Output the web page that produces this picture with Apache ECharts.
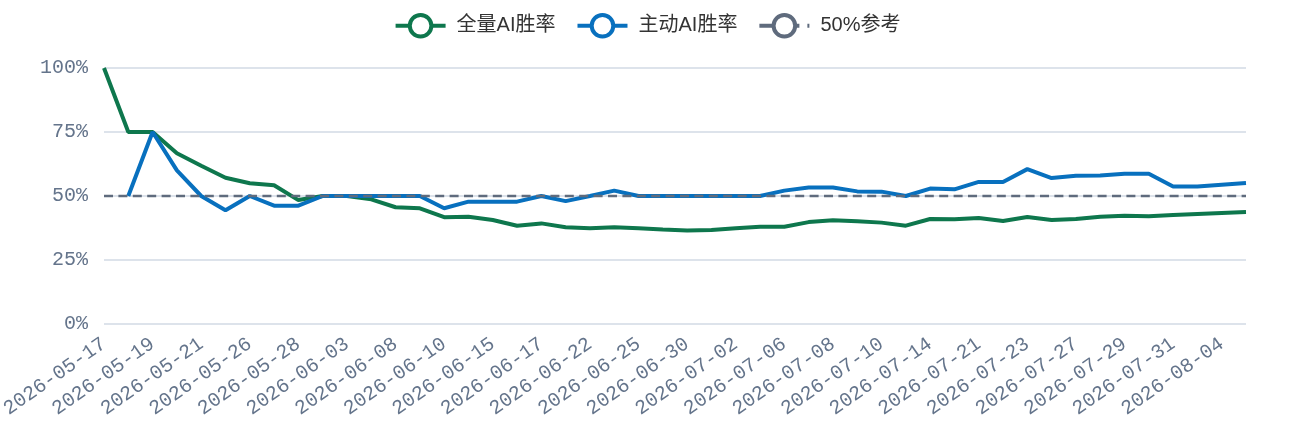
<!DOCTYPE html>
<html>
<head>
<meta charset="utf-8">
<script src="https://cdn.jsdelivr.net/npm/echarts@6/dist/echarts.min.js"></script>
<style>
  html, body { margin: 0; padding: 0; background: #fff; }
  #chart { width: 1294px; height: 422px; }
</style>
</head>
<body>
<div id="chart"></div>
<script>
// x 轴日期（隔一个显示）
const dates = [
  '2026-05-17', '2026-05-18', '2026-05-19', '2026-05-20', '2026-05-21', '2026-05-24',
  '2026-05-26', '2026-05-27', '2026-05-28', '2026-06-01', '2026-06-03', '2026-06-05',
  '2026-06-08', '2026-06-09', '2026-06-10', '2026-06-12', '2026-06-15', '2026-06-16',
  '2026-06-17', '2026-06-19', '2026-06-22', '2026-06-23', '2026-06-25', '2026-06-28',
  '2026-06-30', '2026-07-01', '2026-07-02', '2026-07-04', '2026-07-06', '2026-07-07',
  '2026-07-08', '2026-07-09', '2026-07-10', '2026-07-12', '2026-07-14', '2026-07-17',
  '2026-07-21', '2026-07-22', '2026-07-23', '2026-07-25', '2026-07-27', '2026-07-28',
  '2026-07-29', '2026-07-30', '2026-07-31', '2026-08-02', '2026-08-04', '2026-08-05'
];

// 全量AI胜率 (%)
const allRate = [
  100, 75, 75, 66.7, 61.8, 57.1, 55.0, 54.2, 48.4, 50, 50, 48.7,
  45.6, 45.2, 41.7, 41.9, 40.6, 38.4, 39.3, 37.8, 37.4, 37.8, 37.4, 36.9,
  36.5, 36.7, 37.4, 38.0, 38.0, 39.8, 40.5, 40.1, 39.6, 38.4, 41.0, 40.9,
  41.4, 40.2, 41.8, 40.6, 41.0, 41.9, 42.3, 42.1, 42.6, 43.0, 43.4, 43.75
];

// 主动AI胜率 (%)
const activeRate = [
  null, 50, 75, 60, 50, 44.4, 50, 46.2, 46.2, 50, 50, 50,
  50, 50, 45.2, 47.8, 47.8, 47.8, 50, 48, 50, 52.1, 50, 50,
  50, 50, 50, 50, 52.1, 53.3, 53.3, 51.8, 51.7, 50, 52.9, 52.6,
  55.5, 55.5, 60.5, 57.0, 57.9, 58.0, 58.7, 58.7, 53.7, 53.7, 54.4, 55.1
];

// 50%参考线
const refRate = [
  50, 50, 50, 50, 50, 50, 50, 50, 50, 50, 50, 50,
  50, 50, 50, 50, 50, 50, 50, 50, 50, 50, 50, 50,
  50, 50, 50, 50, 50, 50, 50, 50, 50, 50, 50, 50,
  50, 50, 50, 50, 50, 50, 50, 50, 50, 50, 50, 50
];

const yTicks = [0, 25, 50, 75, 100];

const GREEN = '#0e774d';
const BLUE = '#0870be';
const GRAY = '#5f6b7d';
const axisColor = '#64748b';
const monoFont = "'Liberation Mono', monospace";

// 图例图标：粗线 + 空心圆
const legendItem = (name, color, lineType) => ({
  name: name,
  itemStyle: { color: '#fff', borderColor: color, borderWidth: 4 },
  lineStyle: { color: color, width: 4, type: lineType }
});

const myChart = echarts.init(document.getElementById('chart'));
myChart.setOption({
  animation: false,
  color: [GREEN, BLUE, GRAY],
  legend: {
    top: 8,
    left: 'center',
    itemWidth: 50,
    itemHeight: 27,
    itemGap: 20,
    textStyle: {
      fontSize: 20,
      color: '#333',
      padding: [0, 0, 0, 6],
      fontFamily: "'Liberation Sans', 'Noto Sans CJK SC', sans-serif"
    },
    data: [
      legendItem('全量AI胜率', GREEN, 'solid'),
      legendItem('主动AI胜率', BLUE, 'solid'),
      legendItem('50%参考', GRAY, [16, 8])
    ]
  },
  grid: {
    left: 104,
    right: 48,
    top: 68,
    bottom: 98,
    outerBoundsMode: 'none'
  },
  xAxis: {
    type: 'category',
    data: dates,
    boundaryGap: false,
    axisLine: { show: false },
    axisTick: { show: false },
    axisLabel: {
      interval: 1,
      rotate: 35,
      margin: 18,
      color: axisColor,
      fontSize: 20,
      fontFamily: monoFont
    }
  },
  yAxis: {
    type: 'value',
    min: yTicks[0],
    max: yTicks[yTicks.length - 1],
    interval: 25,
    axisLabel: {
      formatter: '{value}%',
      margin: 16,
      color: axisColor,
      fontSize: 20,
      fontFamily: monoFont
    },
    splitLine: { lineStyle: { color: '#dde3eb', width: 2 } }
  },
  series: [
    {
      name: '全量AI胜率',
      type: 'line',
      data: allRate,
      symbol: 'circle',
      showSymbol: false,
      lineStyle: { width: 4 }
    },
    {
      name: '主动AI胜率',
      type: 'line',
      data: activeRate,
      symbol: 'circle',
      showSymbol: false,
      lineStyle: { width: 4 }
    },
    {
      name: '50%参考',
      type: 'line',
      data: refRate,
      symbol: 'circle',
      showSymbol: false,
      lineStyle: { width: 2.4, type: [9, 5.4] }
    }
  ]
});
</script>
</body>
</html>
